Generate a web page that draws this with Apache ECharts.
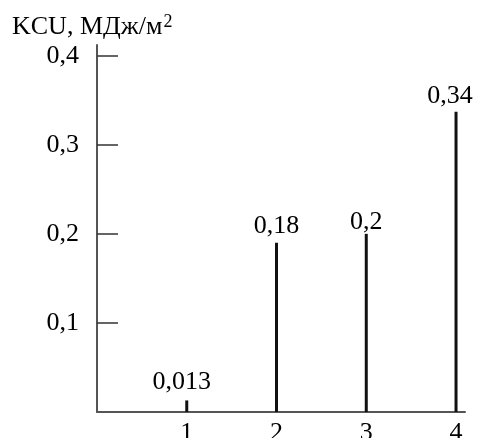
<!DOCTYPE html>
<html>
<head>
<meta charset="utf-8">
<script src="https://cdn.jsdelivr.net/npm/echarts@6/dist/echarts.min.js"></script>
<style>
html,body{margin:0;padding:0;background:#fff;}
#c{width:477px;height:438px;}
</style>
</head>
<body>
<div id="c"></div>
<script>
var categories = [1, 2, 3, 4];
var values = [0.013, 0.19, 0.2, 0.337];
var valueLabels = ['0,013', '0,18', '0,2', '0,34'];
var yTicks = [0.1, 0.2, 0.3, 0.4];
var yTickLabels = ['0,1', '0,2', '0,3', '0,4'];

var FONT = '"Liberation Serif", "Times New Roman", serif';
var labelOffsets = [[-5, -1], [0, 0], [0, 5], [-6, 1]];

var chart = echarts.init(document.getElementById('c'));
chart.setOption({
  animation: false,
  backgroundColor: '#fff',
  title: {
    text: '{m|KCU, МДж/м}{s|2}',
    left: 7,
    top: 8,
    textStyle: {
      rich: {
        m: { fontFamily: FONT, fontSize: 26, fontWeight: 'normal', color: '#000' },
        s: { fontFamily: FONT, fontSize: 18, fontWeight: 'normal', color: '#000', verticalAlign: 'top', padding: [0, 0, 10, 1] }
      }
    }
  },
  grid: { left: 97, right: 12, top: 45, bottom: 26, containLabel: false, outerBoundsMode: 'none' },
  xAxis: {
    type: 'value',
    min: 0,
    max: 4.1,
    splitLine: { show: false },
    axisLine: { show: true, lineStyle: { color: '#555', width: 2 } },
    axisTick: { show: false },
    axisLabel: {
      customValues: categories,
      margin: 8,
      color: '#000',
      fontFamily: FONT,
      fontSize: 26,
      formatter: function (v) { return String(v); }
    }
  },
  yAxis: {
    type: 'value',
    min: 0,
    max: 0.412,
    splitLine: { show: false },
    axisLine: { show: true, lineStyle: { color: '#555', width: 2 } },
    axisTick: {
      show: true,
      inside: true,
      length: 21,
      customValues: yTicks,
      lineStyle: { color: '#333', width: 1.5 }
    },
    axisLabel: {
      customValues: yTicks,
      margin: 18,
      color: '#000',
      fontFamily: FONT,
      fontSize: 26,
      formatter: function (v) {
        var i = yTicks.indexOf(Math.round(v * 10) / 10);
        return i >= 0 ? yTickLabels[i] : '';
      }
    }
  },
  series: [{
    type: 'bar',
    barWidth: 3,
    itemStyle: { color: '#111' },
    data: categories.map(function (c, i) {
      return {
        value: [c, values[i]],
        label: {
          show: true,
          position: 'top',
          distance: 4,
          offset: labelOffsets[i],
          formatter: valueLabels[i],
          color: '#000',
          fontFamily: FONT,
          fontSize: 26
        }
      };
    })
  }]
});
</script>
</body>
</html>
